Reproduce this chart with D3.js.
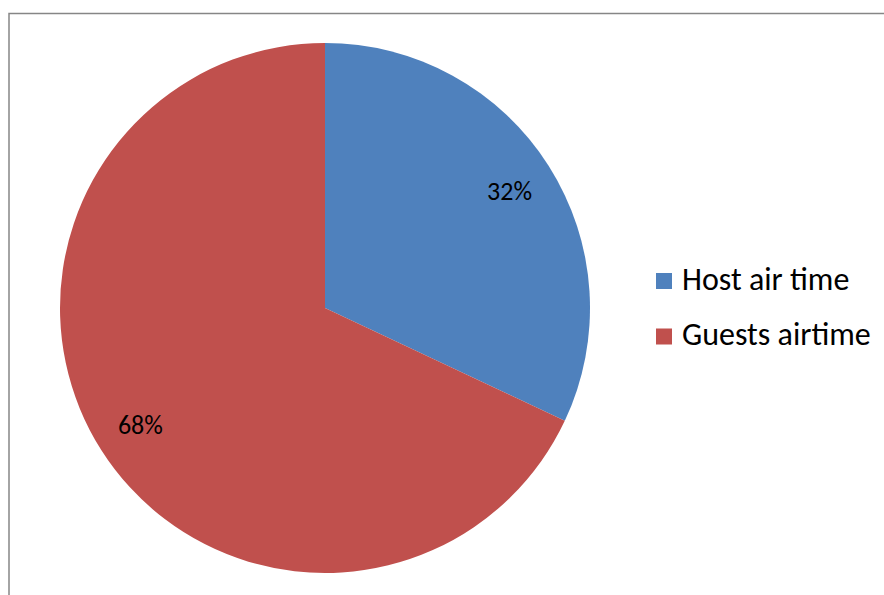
<!DOCTYPE html>
<html><head><meta charset="utf-8">
<script src="https://cdn.jsdelivr.net/npm/d3@7"></script>
<style>body{margin:0;background:#fff}svg{display:block}</style>
</head><body>
<svg id="c" width="884" height="595"></svg>
<script>
const categories = ["Host air time", "Guests airtime"];
const values = [32, 68];
const colors = ["#4F81BD", "#C0504D"];
const labels = ["32%", "68%"];

const svg = d3.select("#c");
const font = "Calibri, Carlito, 'Open Sans', 'Liberation Sans', sans-serif";

// frame
svg.append("path").attr("d", "M9,595 V13.5 H884").attr("fill", "none")
  .attr("stroke", "#868686").attr("stroke-width", 1.5);

const cx = 325, cy = 308, r = 265;
const pie = d3.pie().sort(null).value(d => d)(values);
const arc = d3.arc().innerRadius(0).outerRadius(r);
const g = svg.append("g").attr("transform", `translate(${cx},${cy})`);
g.selectAll("path").data(pie).join("path")
  .attr("d", arc).attr("fill", (d, i) => colors[i]);

const lab = d3.arc().innerRadius(r * 0.825).outerRadius(r * 0.825);
g.selectAll("text").data(pie).join("text")
  .attr("transform", d => `translate(${lab.centroid(d)})`)
  .attr("text-anchor", "middle").attr("dy", "0.35em")
  .style("font-family", font).style("font-size", "26px").attr("fill", "#000")
  .text((d, i) => labels[i]);

const lg = svg.append("g").selectAll("g").data(categories).join("g")
  .attr("transform", (d, i) => `translate(656,${273 + i * 55.5})`);
lg.append("rect").attr("width", 16).attr("height", 16).attr("fill", (d, i) => colors[i]);
lg.append("text").attr("x", 26).attr("y", 16.5)
  .style("font-family", font).style("font-size", "32px").attr("fill", "#000")
  .text(d => d);
</script>
</body></html>
